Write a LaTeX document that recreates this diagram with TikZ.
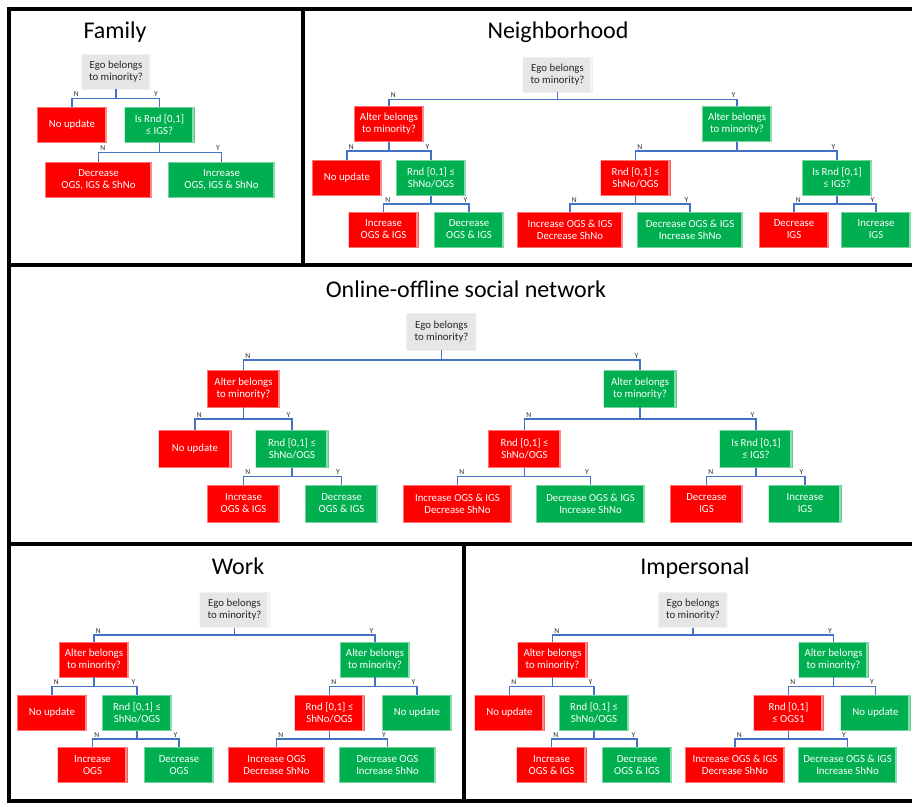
\documentclass[tikz,border=0pt]{standalone}
\usepackage{fontspec}
\setmainfont{Carlito}
\usetikzlibrary{calc}
\definecolor{boxred}{HTML}{FF0000}
\definecolor{boxgreen}{HTML}{00B050}
\definecolor{boxgray}{HTML}{E6E6E6}
\definecolor{connblue}{HTML}{4472C4}

% branch connectors: parent -> child with an N or Y tag at the elbow
\newcommand{\nlink}[2]{\draw[conn] (#1.south) -- ($(#1.south)!.5!(#1.south |- #2.north)$) -| (#2.north) node[nlab] (#2tag) {N};}
\newcommand{\ylink}[2]{\draw[conn] (#1.south) -- ($(#1.south)!.5!(#1.south |- #2.north)$) -| (#2.north) node[ylab] (#2tag) {Y};}

\begin{document}
\begin{tikzpicture}[x=1pt, y=-1pt,
  box/.style={rectangle, minimum width=70pt, minimum height=35pt, inner sep=1pt,
    align=center, text=white, font=\fontsize{10.8}{12}\selectfont},
  bevel/.style={fill=#1, path picture={
    \fill[#1!45!white] ([xshift=-2.5pt]path picture bounding box.north east)
      rectangle (path picture bounding box.south east);
    \draw[#1!55!white, line width=0.7pt] (path picture bounding box.south west)
      -- (path picture bounding box.north west) -- (path picture bounding box.north east);
    \draw[#1!55!white, line width=0.7pt] (path picture bounding box.south west)
      -- (path picture bounding box.south east);}},
  rbox/.style={box, bevel=boxred},
  gbox/.style={box, bevel=boxgreen},
  qbox/.style={box, bevel=boxgray, text=black!85},
  conn/.style={draw=connblue, line width=1.5pt},
  nlab/.style={pos=0.5, anchor=south west, inner sep=1pt, text=black!85, font=\fontsize{7.5}{8}\selectfont},
  ylab/.style={pos=0.5, anchor=south east, inner sep=1pt, text=black!85, font=\fontsize{7.5}{8}\selectfont},
  frame/.style={line width=4pt, black, line cap=rect},
  paneltitle/.style={font=\fontsize{24}{28}\selectfont, text=black}
]
\useasboundingbox[fill=white] (0,0) rectangle (912,803);

% panel frame
\draw[frame] (9,9) -- (912,9);
\draw[frame] (9,265) -- (912,265);
\draw[frame] (9,544) -- (912,544);
\draw[frame] (9,801) -- (912,801);
\draw[frame] (9,9) -- (9,801);
\draw[frame] (302.5,9) -- (302.5,265);
\draw[frame] (464,544) -- (464,801);

% ---------------- Family
\node[paneltitle] (tFam) at (115,32) {Family};
\node[qbox] (F0) at (116,71.5) {Ego belongs\\to minority?};
\node[rbox] (F1) at (72,125) {No update};
\node[gbox] (F2) at (159.5,125) {Is Rnd [0,1]\\≤ IGS?};
\node[rbox, minimum width=107pt] (F3) at (98.5,179.5) {Decrease\\OGS, IGS \& ShNo};
\node[gbox, minimum width=107pt] (F4) at (221.5,179.5) {Increase\\OGS, IGS \& ShNo};
\nlink{F0}{F1} \ylink{F0}{F2}
\nlink{F2}{F3} \ylink{F2}{F4}

% ---------------- Neighborhood
\node[paneltitle] (tNb) at (558,32) {Neighborhood};
\node[qbox] (N0) at (557.5,74.5) {Ego belongs\\to minority?};
\node[rbox] (N1) at (389,124) {Alter belongs\\to minority?};
\node[gbox] (N2) at (737,124) {Alter belongs\\to minority?};
\node[rbox] (N3) at (347,178) {No update};
\node[gbox] (N4) at (431,178) {Rnd [0,1] ≤\\ShNo/OGS};
\node[rbox] (N5) at (635.5,178) {Rnd [0,1] ≤\\ShNo/OGS};
\node[gbox] (N6) at (837,178) {Is Rnd [0,1]\\≤ IGS?};
\node[rbox] (N7) at (383.5,229.5) {Increase\\OGS \& IGS};
\node[gbox] (N8) at (469,229.5) {Decrease\\OGS \& IGS};
\node[rbox, minimum width=106pt] (N9) at (570,229.5) {Increase OGS \& IGS\\Decrease ShNo};
\node[gbox, minimum width=106pt] (N10) at (690,229.5) {Decrease OGS \& IGS\\Increase ShNo};
\node[rbox] (N11) at (794,229.5) {Decrease\\IGS};
\node[gbox] (N12) at (876,229.5) {Increase\\IGS};
\nlink{N0}{N1} \ylink{N0}{N2}
\nlink{N1}{N3} \ylink{N1}{N4}
\nlink{N2}{N5} \ylink{N2}{N6}
\nlink{N4}{N7} \ylink{N4}{N8}
\nlink{N5}{N9} \ylink{N5}{N10}
\nlink{N6}{N11} \ylink{N6}{N12}

% ---------------- Online-offline social network
\begin{scope}[box/.append style={minimum width=73pt, minimum height=37pt}]
\node[paneltitle] (tOn) at (466,289) {Online-offline social network};
\node[qbox, minimum width=71pt] (M0) at (441.5,331.5) {Ego belongs\\to minority?};
\node[rbox] (M1) at (243.5,388.5) {Alter belongs\\to minority?};
\node[gbox] (M2) at (640,388.5) {Alter belongs\\to minority?};
\node[rbox] (M3) at (195,449) {No update};
\node[gbox] (M4) at (292,449) {Rnd [0,1] ≤\\ShNo/OGS};
\node[rbox] (M5) at (524.5,449) {Rnd [0,1] ≤\\ShNo/OGS};
\node[gbox] (M6) at (756,449) {Is Rnd [0,1]\\≤ IGS?};
\node[rbox] (M7) at (243.5,503.5) {Increase\\OGS \& IGS};
\node[gbox] (M8) at (341.5,503.5) {Decrease\\OGS \& IGS};
\node[rbox, minimum width=109pt] (M9) at (457.5,503.5) {Increase OGS \& IGS\\Decrease ShNo};
\node[gbox, minimum width=109pt] (M10) at (590.5,503.5) {Decrease OGS \& IGS\\Increase ShNo};
\node[rbox] (M11) at (706.5,503.5) {Decrease\\IGS};
\node[gbox] (M12) at (805,503.5) {Increase\\IGS};
\end{scope}
\nlink{M0}{M1} \ylink{M0}{M2}
\nlink{M1}{M3} \ylink{M1}{M4}
\nlink{M2}{M5} \ylink{M2}{M6}
\nlink{M4}{M7} \ylink{M4}{M8}
\nlink{M5}{M9} \ylink{M5}{M10}
\nlink{M6}{M11} \ylink{M6}{M12}

% ---------------- Work
\node[paneltitle] (tWk) at (238,566) {Work};
\node[qbox] (W0) at (234.5,610) {Ego belongs\\to minority?};
\node[rbox] (W1) at (94,659.5) {Alter belongs\\to minority?};
\node[gbox] (W2) at (375,659.5) {Alter belongs\\to minority?};
\node[rbox] (W3) at (52,713) {No update};
\node[gbox] (W4) at (137,713) {Rnd [0,1] ≤\\ShNo/OGS};
\node[rbox] (W5) at (329.5,713) {Rnd [0,1] ≤\\ShNo/OGS};
\node[gbox] (W6) at (417,713) {No update};
\node[rbox] (W7) at (92.5,765) {Increase\\OGS};
\node[gbox] (W8) at (179,765) {Decrease\\OGS};
\node[rbox, minimum width=97pt] (W9) at (276.5,765) {Increase OGS\\Decrease ShNo};
\node[gbox, minimum width=97pt] (W10) at (387.5,765) {Decrease OGS\\Increase ShNo};
\nlink{W0}{W1} \ylink{W0}{W2}
\nlink{W1}{W3} \ylink{W1}{W4}
\nlink{W2}{W5} \ylink{W2}{W6}
\nlink{W4}{W7} \ylink{W4}{W8}
\nlink{W5}{W9} \ylink{W5}{W10}

% ---------------- Impersonal
\node[paneltitle] (tIm) at (695,568) {Impersonal};
\node[qbox] (I0) at (693,610) {Ego belongs\\to minority?};
\node[rbox] (I1) at (552.5,659.5) {Alter belongs\\to minority?};
\node[gbox] (I2) at (833.5,659.5) {Alter belongs\\to minority?};
\node[rbox] (I3) at (509.5,713) {No update};
\node[gbox] (I4) at (594,713) {Rnd [0,1] ≤\\ShNo/OGS};
\node[rbox] (I5) at (788.5,713) {Rnd [0,1]\\≤ OGS1};
\node[gbox] (I6) at (875.5,713) {No update};
\node[rbox] (I7) at (551.5,765) {Increase\\OGS \& IGS};
\node[gbox] (I8) at (637,765) {Decrease\\OGS \& IGS};
\node[rbox, minimum width=100pt] (I9) at (735,765) {Increase OGS \& IGS\\Decrease ShNo};
\node[gbox, minimum width=99pt] (I10) at (847.5,765) {Decrease OGS \& IGS\\Increase ShNo};
\nlink{I0}{I1} \ylink{I0}{I2}
\nlink{I1}{I3} \ylink{I1}{I4}
\nlink{I2}{I5} \ylink{I2}{I6}
\nlink{I4}{I7} \ylink{I4}{I8}
\nlink{I5}{I9} \ylink{I5}{I10}
\end{tikzpicture}
\end{document}
